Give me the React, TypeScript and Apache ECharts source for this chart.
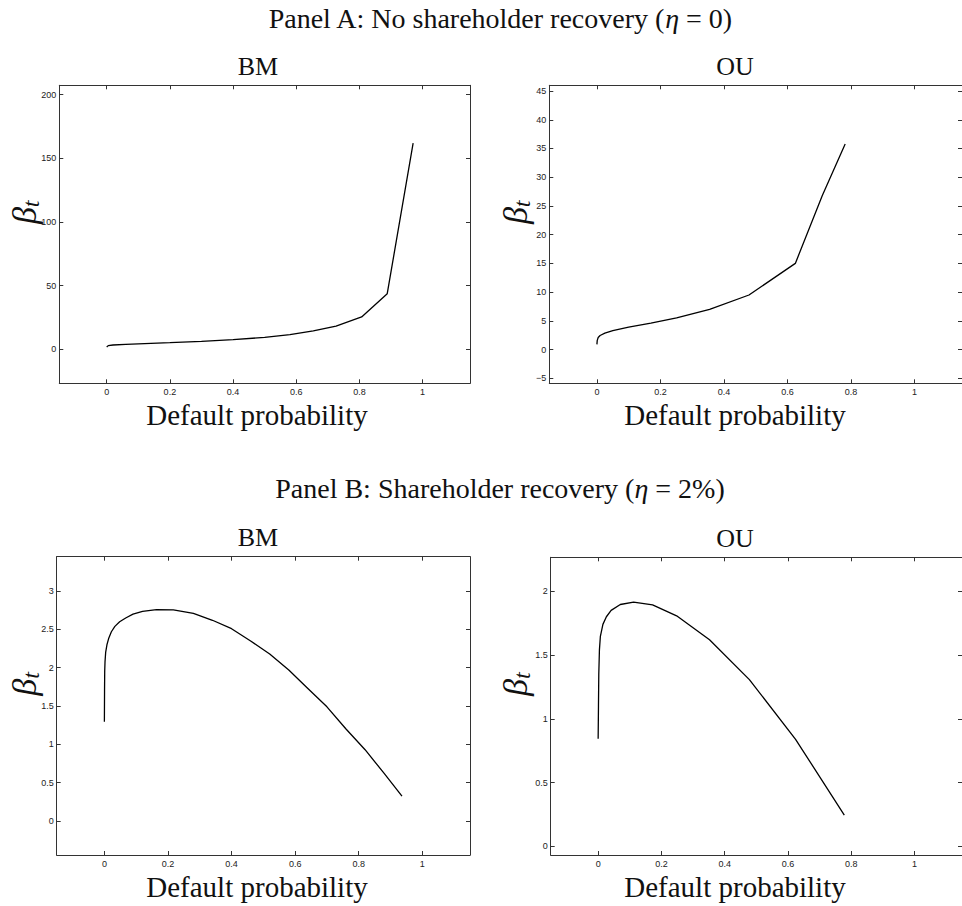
import React, { useEffect, useRef } from "react";
import * as echarts from "echarts";

// ---- Data ----
const X_TICKS = [0, 0.2, 0.4, 0.6, 0.8, 1];

// Panel A, BM
const A_BM_X = [0, 0.005, 0.02, 0.06, 0.12, 0.2, 0.3, 0.4, 0.5, 0.58, 0.654, 0.726, 0.807, 0.888, 0.97];
const A_BM_Y = [1.8, 2.9, 3.4, 3.9, 4.5, 5.2, 6.3, 7.6, 9.4, 11.5, 14.5, 18.3, 25.4, 43.7, 162];
const A_BM_YTICKS = [0, 50, 100, 150, 200];

// Panel A, OU
const A_OU_X = [0, 0.001, 0.004, 0.01, 0.025, 0.05, 0.1, 0.17, 0.251, 0.355, 0.479, 0.625, 0.71, 0.782];
const A_OU_Y = [0.9, 1.6, 2.1, 2.45, 2.85, 3.3, 3.9, 4.6, 5.5, 7.0, 9.5, 15.0, 26.8, 35.8];
const A_OU_YTICKS = [-5, 0, 5, 10, 15, 20, 25, 30, 35, 40, 45];

// Panel B, BM
const B_BM_X = [0, 0.0005, 0.001, 0.002, 0.004, 0.008, 0.014, 0.022, 0.033, 0.048, 0.067, 0.09, 0.12, 0.164, 0.217, 0.28, 0.34, 0.4, 0.46, 0.52, 0.58, 0.64, 0.7, 0.76, 0.82, 0.88, 0.936];
const B_BM_Y = [1.295, 1.7, 1.95, 2.08, 2.2, 2.3, 2.39, 2.47, 2.54, 2.6, 2.65, 2.7, 2.735, 2.76, 2.755, 2.71, 2.62, 2.51, 2.35, 2.18, 1.97, 1.73, 1.49, 1.2, 0.93, 0.62, 0.323];
const B_BM_YTICKS = [0, 0.5, 1, 1.5, 2, 2.5, 3];

// Panel B, OU
const B_OU_X = [0, 0.001, 0.002, 0.004, 0.007, 0.015, 0.026, 0.041, 0.07, 0.112, 0.172, 0.248, 0.352, 0.478, 0.624, 0.778];
const B_OU_Y = [0.844, 1.1, 1.35, 1.54, 1.646, 1.74, 1.8, 1.85, 1.896, 1.914, 1.893, 1.807, 1.62, 1.307, 0.839, 0.245];
const B_OU_YTICKS = [0, 0.5, 1, 1.5, 2];

const PANEL_A_TITLE = "Panel A: No shareholder recovery (";
const PANEL_A_EQ = " = 0)";
const PANEL_B_TITLE = "Panel B: Shareholder recovery (";
const PANEL_B_EQ = " = 2%)";
const X_NAME = "Default probability";

const SERIF = "'Liberation Serif', 'Times New Roman', serif";
const SANS = "'Liberation Sans', Arial, Helvetica, sans-serif";
const AXIS_COLOR = "#333";

type Panel = {
  rect: { left: number; top: number; width: number; height: number };
  yMin: number;
  yMax: number;
  yTicks: number[];
  xs: number[];
  ys: number[];
  title: string;
};

const PANELS: Panel[] = [
  { rect: { left: 59.3, top: 85.3, width: 410.7, height: 298 }, yMin: -26.7, yMax: 207.4, yTicks: A_BM_YTICKS, xs: A_BM_X, ys: A_BM_Y, title: "BM" },
  { rect: { left: 549.3, top: 85.3, width: 414.2, height: 298 }, yMin: -5.87, yMax: 46, yTicks: A_OU_YTICKS, xs: A_OU_X, ys: A_OU_Y, title: "OU" },
  { rect: { left: 56.7, top: 556.7, width: 413.3, height: 298.3 }, yMin: -0.445, yMax: 3.45, yTicks: B_BM_YTICKS, xs: B_BM_X, ys: B_BM_Y, title: "BM" },
  { rect: { left: 550.7, top: 557.3, width: 414.7, height: 297.7 }, yMin: -0.068, yMax: 2.266, yTicks: B_OU_YTICKS, xs: B_OU_X, ys: B_OU_Y, title: "OU" },
];

const fmt = (v: any) => String(v).replace("-", "\u2212");

function buildOption() {
  const grid: any[] = [];
  const xAxis: any[] = [];
  const yAxis: any[] = [];
  const series: any[] = [];
  const graphic: any[] = [];

  PANELS.forEach((p, i) => {
    grid.push({ ...p.rect, show: false });
    const common = {
      type: "value",
      gridIndex: i,
      axisLine: { show: true, onZero: false, lineStyle: { color: AXIS_COLOR, width: 1 } },
      splitLine: { show: false },
    };
    const tick = (vals: number[]) => ({
      show: true,
      inside: true,
      length: 4,
      customValues: vals,
      lineStyle: { color: AXIS_COLOR },
    });
    xAxis.push({
      ...common,
      position: "bottom",
      min: -0.15,
      max: 1.15,
      axisTick: tick(X_TICKS),
      axisLabel: { show: true, customValues: X_TICKS, formatter: fmt, margin: 4, fontFamily: SANS, fontSize: 9, color: "#222" },
    });
    xAxis.push({
      ...common,
      position: "top",
      min: -0.15,
      max: 1.15,
      axisTick: tick(X_TICKS),
      axisLabel: { show: false },
    });
    yAxis.push({
      ...common,
      position: "left",
      min: p.yMin,
      max: p.yMax,
      axisTick: tick(p.yTicks),
      axisLabel: { show: true, customValues: p.yTicks, formatter: fmt, margin: 3, fontFamily: SANS, fontSize: 9, color: "#222" },
    });
    yAxis.push({
      ...common,
      position: "right",
      min: p.yMin,
      max: p.yMax,
      axisTick: tick(p.yTicks),
      axisLabel: { show: false },
    });
    series.push({
      type: "line",
      xAxisIndex: 2 * i,
      yAxisIndex: 2 * i,
      data: p.xs.map((x, k) => [x, p.ys[k]]),
      symbol: "none",
      smooth: false,
      lineStyle: { color: "#000", width: 1.3 },
      silent: true,
    });

    // sub-plot title
    graphic.push({
      type: "text",
      x: i % 2 === 0 ? 258 : 735,
      y: p.rect.top - 19,
      style: { text: p.title, font: `26px ${SERIF}`, fill: "#111", textAlign: "center", textVerticalAlign: "middle" },
    });
    // x-axis name
    graphic.push({
      type: "text",
      x: i % 2 === 0 ? 257 : 735,
      y: p.rect.top + p.rect.height + 32,
      style: { text: X_NAME, font: `29px ${SERIF}`, fill: "#111", textAlign: "center", textVerticalAlign: "middle" },
    });
    // y-axis name (beta_t), rotated
    graphic.push({
      type: "text",
      x: i % 2 === 0 ? 24 : 515,
      y: p.rect.top + p.rect.height / 2 - 22,
      rotation: Math.PI / 2,
      style: {
        text: "{b|\u03B2}{t|t}",
        textAlign: "center",
        textVerticalAlign: "middle",
        fill: "#111",
        rich: {
          b: { fontFamily: SERIF, fontStyle: "italic", fontSize: 34, fill: "#111", color: "#111" },
          t: { fontFamily: SERIF, fontStyle: "italic", fontSize: 24, fill: "#111", color: "#111", padding: [14, 0, 0, 0] },
        },
      },
    });
  });

  // panel titles
  const panelTitle = (txt: string, eq: string, y: number) => ({
    type: "text",
    x: 500,
    y,
    style: {
      text: `{r|${txt}}{i|\u03B7}{r|${eq}}`,
      textAlign: "center",
      textVerticalAlign: "middle",
      rich: {
        r: { fontFamily: SERIF, fontSize: 28, fill: "#111", color: "#111" },
        i: { fontFamily: SERIF, fontStyle: "italic", fontSize: 28, fill: "#111", color: "#111" },
      },
    },
  });
  graphic.push(panelTitle(PANEL_A_TITLE, PANEL_A_EQ, 18));
  graphic.push(panelTitle(PANEL_B_TITLE, PANEL_B_EQ, 488));

  return {
    animation: false,
    backgroundColor: "#fff",
    grid,
    xAxis,
    yAxis,
    series,
    graphic,
  };
}

export default function App() {
  const ref = useRef<HTMLDivElement | null>(null);
  useEffect(() => {
    if (!ref.current) return;
    const chart = echarts.init(ref.current, undefined, { renderer: "svg" });
    chart.setOption(buildOption() as any);
    return () => chart.dispose();
  }, []);
  return (
    <div
      ref={ref}
      style={{ position: "absolute", left: 0, top: 0, width: 962, height: 906, background: "#fff" }}
    />
  );
}
